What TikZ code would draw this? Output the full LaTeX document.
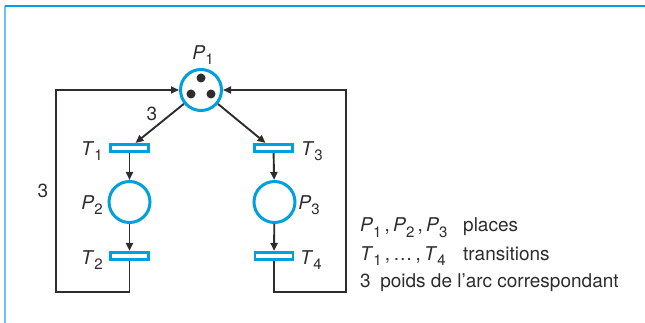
\documentclass[tikz,border=0pt]{standalone}
\usepackage{fontspec}
\setmainfont{TeX Gyre Heros}
\usetikzlibrary{arrows.meta}
\definecolor{netblue}{RGB}{0,160,222}
\definecolor{frameblue}{RGB}{100,200,240}
\definecolor{arcgray}{RGB}{45,45,45}
\newcommand{\lab}[2]{\textit{#1}\raisebox{-0.55ex}{\fontsize{15}{15}\selectfont #2}}

\begin{document}
\begin{tikzpicture}[x=1pt, y=-1pt, >={Triangle[length=8pt, width=7pt]},
  place/.style={circle, draw=netblue, line width=3pt, minimum size=41pt,
    inner sep=0pt},
  trans/.style={rectangle, draw=netblue, line width=2.6pt, minimum width=38pt,
    minimum height=7.5pt, inner sep=0pt},
  token/.style={circle, fill=arcgray, minimum size=9pt, inner sep=0pt},
  arc/.style={draw=arcgray, line width=1.9pt},
  txt/.style={inner sep=0pt, text=arcgray},
  font=\fontsize{19}{22}\selectfont]
  \useasboundingbox (0,0) rectangle (645,323);
  % frame
  \draw[frameblue, line width=1.6pt] (5,6) -- (5,323);
  \draw[netblue, line width=2.2pt] (5,6) -- (645,6);

  \node[place] (p1) at (201,90) {};
  \node[place] (p2) at (129.5,202) {};
  \node[place] (p3) at (274.5,202) {};
  \node[trans] (t1) at (129.5,148) {};
  \node[trans] (t3) at (273.5,148) {};
  \node[trans] (t2) at (129.5,256) {};
  \node[trans] (t4) at (274,256) {};
  \foreach \dx/\dy [count=\k] in {0/-12, -10/4, 10/4} {
    \node[token] (tok\k) at ([shift={(\dx,\dy)}]p1.center) {};
  }
  \coordinate (bl) at (56,292);
  \coordinate (br) at (346,292);

  % labels
  \node[txt] (lp1) at (203,55) {\lab{P}{1}};
  \node[txt] (lt1) at (92,151) {\lab{T}{1}};
  \node[txt] (lt3) at (312,151) {\lab{T}{3}};
  \node[txt] (lp2) at (92,205) {\lab{P}{2}};
  \node[txt] (lp3) at (309,205) {\lab{P}{3}};
  \node[txt] (lt2) at (92,260) {\lab{T}{2}};
  \node[txt] (lt4) at (311,260) {\lab{T}{4}};
  \node[txt] (w1) at (152,114) {3};
  \node[txt] (w2) at (43,191) {3};

  % arcs
  \draw[arc,->] (p1) -- ([xshift=6pt]t1.north);
  \draw[arc,->] (p1) -- ([xshift=-8pt]t3.north);
  \draw[arc,->] (t1) -- (p2);
  \draw[arc,->] (t3) -- (p3);
  \draw[arc,->] (p2) -- (t2);
  \draw[arc,->] (p3) -- (t4);
  \draw[arc,->] (t2) |- (bl) |- (p1);
  \draw[arc,->] (t4) |- (br) |- (p1);

  % legend
  \node[txt, anchor=base west] (k1) at (360,232) {\lab{P}{1}\,,\,\lab{P}{2}\,,\,\lab{P}{3}};
  \node[txt, anchor=base west] (d1) at (463,232) {places};
  \node[txt, anchor=base west] (k2) at (360,260) {\lab{T}{1}\,,\,\dots\,,\,\lab{T}{4}};
  \node[txt, anchor=base west] (d2) at (463,260) {transitions};
  \node[txt, anchor=base west] (k3) at (360,287) {3\enspace poids de l’arc correspondant};
\end{tikzpicture}
\end{document}
